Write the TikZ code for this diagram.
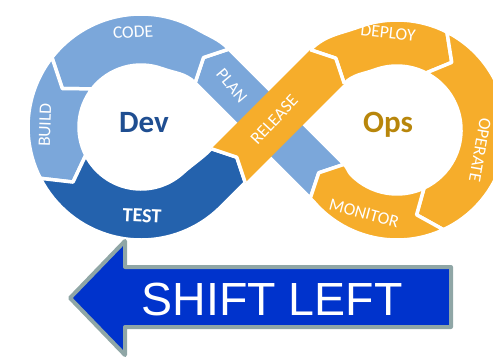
\documentclass[tikz,border=0pt]{standalone}
\usepackage{fontspec}
\setmainfont{Carlito}
\newfontfamily\arialfont{Liberation Sans}
\usetikzlibrary{calc}
\definecolor{lblue}{HTML}{7BA7DA}
\definecolor{dblue}{HTML}{2462AD}
\definecolor{orng}{HTML}{F6AD2B}
\definecolor{devtxt}{HTML}{1F4E91}
\definecolor{opstxt}{HTML}{B8860B}
\definecolor{arrowblue}{HTML}{0033CC}
\definecolor{arrowedge}{HTML}{8FA6A6}
\begin{document}
\begin{tikzpicture}[x=1pt,y=1pt,
  seg/.style={draw=white, line width=3.5pt, line join=round},
  gapline/.style={draw=white, line width=3.5pt, line join=round},
  lbl/.style={text=white, font=\fontsize{17.5}{17.5}\selectfont, inner sep=0pt},
  hub/.style={font=\fontsize{31}{31}\selectfont\bfseries, inner sep=0pt, anchor=base}]
\useasboundingbox (0,0) rectangle (493,360);
\def\bandhw{24}
% centres of the two loops and of the crossing
\coordinate (C) at (270,236);
\coordinate (D) at (141,233);
\coordinate (O) at (397,230);
% blue band (Monitor -> Plan), running down-right
\coordinate (pO1) at ($(C)+(-45:81)+(225:\bandhw)$);
\coordinate (pN)  at ($(C)+(-45:69)$);
\coordinate (pI1) at ($(C)+(-45:81)+(225:-\bandhw)$);
\coordinate (pO2) at ($(C)+(-45:-82)+(225:-\bandhw)$);
\coordinate (pT)  at ($(C)+(-45:-94)$);
\coordinate (pI2) at ($(C)+(-45:-82)+(225:\bandhw)$);
% orange band (Test -> Release -> Deploy), running up-right
\coordinate (rO1) at ($(C)+(45:-59)+(-45:\bandhw)$);
\coordinate (rN)  at ($(C)+(45:-47)$);
\coordinate (rI1) at ($(C)+(45:-59)+(-45:-\bandhw)$);
\coordinate (rO2) at ($(C)+(45:81)+(-45:-\bandhw)$);
\coordinate (rT)  at ($(C)+(45:93)$);
\coordinate (rI2) at ($(C)+(45:81)+(-45:\bandhw)$);

% PLAN band
\filldraw[seg, fill=lblue] (pO1) -- (pN) -- (pI1) -- (pO2) -- (pT) -- (pI2) -- cycle;
% CODE
\filldraw[seg, fill=lblue] (pO2) -- (pT) -- (pI2)
  to[out=135, in=-20] ($(D)+(70:62)$) arc[start angle=70, end angle=142, radius=62]
  -- ($(D)+(154:87.5)$) -- ($(D)+(142:113)$)
  arc[start angle=142, end angle=60, radius=113] to[out=-30, in=135] (pO2) -- cycle;
% BUILD
\filldraw[seg, fill=lblue] ($(D)+(142:113)$) -- ($(D)+(154:87.5)$) -- ($(D)+(142:62)$)
  arc[start angle=142, end angle=207, radius=62]
  -- ($(D)+(219:87.5)$) -- ($(D)+(207:113)$)
  arc[start angle=207, end angle=142, radius=113] -- cycle;
% TEST
\filldraw[seg, fill=dblue] ($(D)+(207:113)$) -- ($(D)+(219:87.5)$) -- ($(D)+(207:62)$)
  arc[start angle=207, end angle=312, radius=62] to[out=42, in=225] (rI1)
  -- (rN) -- (rO1) to[out=225, in=45] ($(D)+(315:113)$)
  arc[start angle=315, end angle=207, radius=113] -- cycle;
% DEPLOY
\filldraw[seg, fill=orng] (rO2) -- (rT) -- (rI2)
  to[out=45, in=200] ($(O)+(110:64)$) arc[start angle=110, end angle=63, radius=64]
  -- ($(O)+(51:87)$) -- ($(O)+(63:110)$)
  arc[start angle=63, end angle=110, radius=110] to[out=200, in=45] (rO2) -- cycle;
% OPERATE
\filldraw[seg, fill=orng] ($(O)+(63:110)$) -- ($(O)+(51:87)$) -- ($(O)+(63:64)$)
  arc[start angle=63, end angle=-65, radius=64]
  -- ($(O)+(-77:87)$) -- ($(O)+(-65:110)$)
  arc[start angle=-65, end angle=63, radius=110] -- cycle;
% MONITOR
\filldraw[seg, fill=orng] ($(O)+(-65:110)$) -- ($(O)+(-77:87)$) -- ($(O)+(-65:64)$)
  arc[start angle=-65, end angle=-135, radius=64] to[out=135, in=-45] (pI1)
  -- (pN) -- (pO1) to[out=-45, in=135] ($(O)+(-135:110)$)
  arc[start angle=-135, end angle=-65, radius=110] -- cycle;
% RELEASE lies over the blue band
\fill[orng] (rO1) -- (rN) -- (rI1) -- (rO2) -- (rT) -- (rI2) -- cycle;
\draw[gapline] (rO1) -- (rN) -- (rI1);
\draw[gapline] (rO2) -- (rT) -- (rI2);

% stage labels
\node[lbl, rotate=3] (code) at (133,328) {CODE};
\node[lbl, rotate=88] (build) at (45,235) {BUILD};
\node[lbl, rotate=-3, font=\fontsize{20}{20}\selectfont\bfseries] (test) at (142,144) {TEST};
\node[lbl, rotate=-50] (plan) at ($(C)+(-45:-54)$) {PLAN};
\node[lbl, rotate=47] (release) at ($(C)+(45:6)$) {RELEASE};
\node[lbl, rotate=-6] (deploy) at (388,327) {DEPLOY};
\node[lbl, rotate=-100] (operate) at (480,210) {OPERATE};
\node[lbl, rotate=-15] (monitor) at (364,147) {MONITOR};
% loop names
\node[hub, text=devtxt] (dev) at (144,228) {Dev};
\node[hub, text=opstxt] (ops) at (388,228) {Ops};

% shift-left arrow
\filldraw[fill=arrowblue, draw=arrowedge, line width=4pt, line join=round]
  (70,62) -- (125,119) -- (125,93) -- (451,93) -- (451,33) -- (125,33) -- (125,5) -- cycle;
\node[text=white, font=\arialfont\fontsize{46.5}{46.5}\selectfont, inner sep=0pt, anchor=base]
  (shift) at (272,45) {SHIFT LEFT};
\end{tikzpicture}
\end{document}
